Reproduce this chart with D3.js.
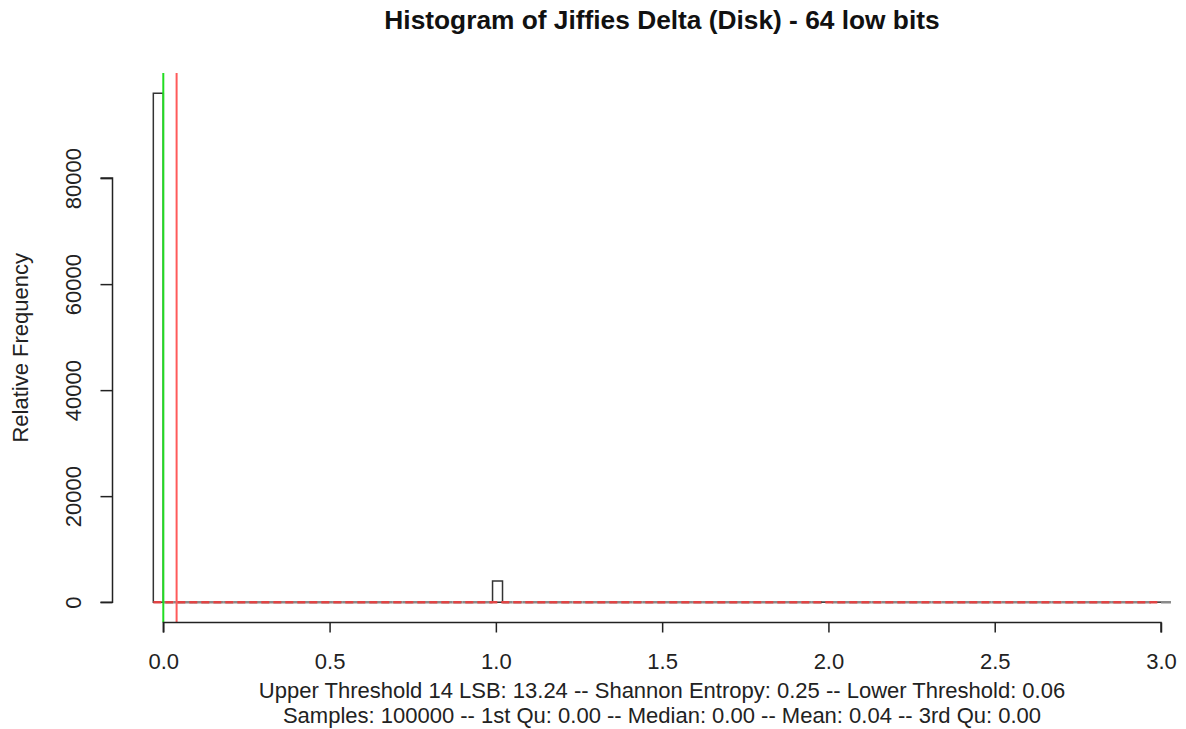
<!DOCTYPE html>
<html>
<head>
<meta charset="utf-8">
<script src="https://cdn.jsdelivr.net/npm/d3@7"></script>
<style>
  html, body { margin: 0; padding: 0; background: #fff; }
  svg { display: block; font-family: "Liberation Sans", Arial, Helvetica, sans-serif; }
</style>
</head>
<body>
<svg id="chart" width="1186" height="729"></svg>
<script>
// ---- data ----
const title = "Histogram of Jiffies Delta (Disk) - 64 low bits";
const yLabel = "Relative Frequency";
const subLines = [
  "Upper Threshold 14 LSB: 13.24 -- Shannon Entropy: 0.25 -- Lower Threshold: 0.06",
  "Samples: 100000 -- 1st Qu: 0.00 -- Median: 0.00 -- Mean: 0.04 -- 3rd Qu: 0.00"
];
const sampleValues = [0, 1, 2, 3];
const sampleCounts = [95990, 4000, 8, 2];
const binWidth = 0.03;
const binStart = -0.03;
const binEnd = 3.03;
const xTicks = [0, 0.5, 1, 1.5, 2, 2.5, 3];
const xTickLabels = ["0.0", "0.5", "1.0", "1.5", "2.0", "2.5", "3.0"];
const yTicks = [0, 20000, 40000, 60000, 80000];
const medianValue = 0.0;
const meanValue = 0.04;
const refLineY = 0;

// ---- bins (right-closed, R style) ----
const nBins = Math.round((binEnd - binStart) / binWidth);
const bins = d3.range(nBins).map(i => {
  const lo = binStart + i * binWidth, hi = lo + binWidth;
  let c = 0;
  sampleValues.forEach((v, k) => { if (v > lo + 1e-9 && v <= hi + 1e-9) c += sampleCounts[k]; });
  return { lo, hi, count: c };
});
const maxCount = d3.max(bins, b => b.count);

const svg = d3.select("#chart");
const x = d3.scaleLinear().domain([0, 3]).range([163.3, 1161]);
const plotTop = 73, plotBottom = 622.5;
const y = d3.scaleLinear().domain([-0.04 * maxCount, 1.04 * maxCount]).range([plotBottom, plotTop]);
const FS = 22;

// bars (paths so that empty bins show as a flat line)
svg.append("g").selectAll("path").data(bins).join("path")
  .attr("d", d => {
    const x0 = x(d.lo), x1 = x(d.hi), y0 = y(0), y1 = y(d.count);
    return `M${x0},${y0}V${y1}H${x1}V${y0}Z`;
  })
  .attr("fill", "none")
  .attr("stroke", d => d.count > 0 ? "#333" : "#8a8a8a")
  .attr("stroke-width", d => d.count > 0 ? 1.5 : 2.5);

// horizontal dashed red reference line
svg.append("line")
  .attr("x1", x(binStart)).attr("x2", x(3))
  .attr("y1", y(refLineY)).attr("y2", y(refLineY))
  .attr("stroke", "#e04444").attr("stroke-width", 2.5)
  .attr("stroke-dasharray", "8,4");

// vertical lines
svg.append("line")
  .attr("x1", x(medianValue)).attr("x2", x(medianValue))
  .attr("y1", plotTop).attr("y2", plotBottom)
  .attr("stroke", "#22dd22").attr("stroke-width", 2);
svg.append("line")
  .attr("x1", x(meanValue)).attr("x2", x(meanValue))
  .attr("y1", plotTop).attr("y2", plotBottom)
  .attr("stroke", "#ff5a5a").attr("stroke-width", 2);

// x axis
const xAxis = d3.axisBottom(x).tickValues(xTicks)
  .tickFormat((d, i) => xTickLabels[i]).tickSize(10).tickSizeOuter(0);
const gx = svg.append("g").attr("transform", `translate(0,${plotBottom})`).call(xAxis);
gx.select(".domain").attr("d", `M${x(0)},10V0H${x(3)}V10`).attr("stroke", "#222").attr("stroke-width", 1.5);
gx.selectAll(".tick line").attr("stroke", "#222").attr("stroke-width", 1.5);
gx.selectAll(".tick text").attr("font-size", FS).attr("fill", "#222")
  .attr("font-family", "Liberation Sans, Arial, sans-serif")
  .attr("y", 669 - plotBottom).attr("dy", null);

// y axis
const yAxis = d3.axisLeft(y).tickValues(yTicks).tickFormat(d3.format("d"))
  .tickSize(12).tickSizeOuter(0).tickPadding(0);
const gy = svg.append("g").attr("transform", `translate(112.5,0)`).call(yAxis);
gy.select(".domain").attr("d", `M-12,${y(0)}H0V${y(80000)}H-12`).attr("stroke", "#222").attr("stroke-width", 1.5);
gy.selectAll(".tick line").attr("stroke", "#222").attr("stroke-width", 1.5);
gy.selectAll(".tick text")
  .attr("font-size", FS).attr("fill", "#222")
  .attr("font-family", "Liberation Sans, Arial, sans-serif")
  .attr("x", null).attr("dy", null)
  .attr("text-anchor", "middle")
  .attr("transform", "translate(-32,0) rotate(-90)");

// y label
svg.append("text")
  .attr("transform", `translate(28,${(plotTop + plotBottom) / 2}) rotate(-90)`)
  .attr("text-anchor", "middle")
  .attr("font-size", FS).attr("fill", "#222")
  .text(yLabel);

// title
svg.append("text")
  .attr("x", 662).attr("y", 29)
  .attr("text-anchor", "middle")
  .attr("font-size", 26.3).attr("font-weight", "bold").attr("fill", "#111")
  .text(title);

// sub lines
svg.selectAll("text.sub").data(subLines).join("text")
  .attr("class", "sub")
  .attr("x", 662).attr("y", (d, i) => 698 + i * 25)
  .attr("text-anchor", "middle")
  .attr("font-size", FS).attr("fill", "#222")
  .text(d => d);
</script>
</body>
</html>
